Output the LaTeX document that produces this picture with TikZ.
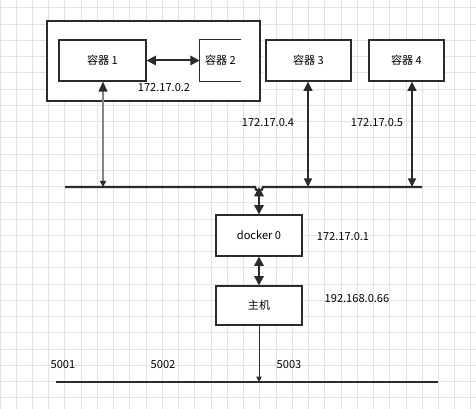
\documentclass[tikz,border=0pt]{standalone}
\usepackage{fontspec}
\setmainfont{Noto Sans CJK SC}
\usetikzlibrary{arrows.meta}
\definecolor{gridc}{HTML}{E2E2E2}
\definecolor{linec}{HTML}{2B2B2B}
\definecolor{grayline}{HTML}{858585}
\begin{document}
\begin{tikzpicture}[x=0.75pt,y=-0.75pt,
  txt/.style={font=\fontsize{8.3}{10}\selectfont, text=black},
  box/.style={draw=linec, line width=0.8pt, fill=white, inner sep=0pt, txt},
  lbl/.style={inner sep=0pt, txt},
  gridline/.style={draw=gridc, line width=0.75pt},
  bus/.style={draw=linec, line width=1.6pt},
  fatarrow/.style={draw=linec, line width=1.5pt, {Triangle[length=7pt,width=7pt]}-{Triangle[length=7pt,width=7pt]}},
  midarrow/.style={draw=linec, line width=1.3pt, {Triangle[length=7pt,width=6.5pt]}-{Triangle[length=6.5pt,width=6pt]}},
  grayarrow/.style={draw=grayline, line width=1.3pt, {Triangle[length=7.5pt,width=6.5pt,color=linec]}-{Triangle[length=4.5pt,width=4.5pt,color=linec]}},
  thinarrow/.style={draw=linec, line width=0.75pt, -{Triangle[length=4pt,width=4pt]}}]
\fill[white] (0,0) rectangle (476,409);
\useasboundingbox (0,0) rectangle (476,409);
\foreach \i in {0,...,29} \draw[gridline] ({\i*16.24},0) -- ({\i*16.24},409);
\foreach \j in {0,...,24} \draw[gridline] (0,{8+\j*16.24}) -- (476,{8+\j*16.24});

% outer frame
\node[box, minimum width=159.75pt, minimum height=60pt] (outer) at (153.5,61) {};
% containers
\node[box, minimum width=65.25pt, minimum height=30.75pt] (c1) at (102.5,60.5) {容器 1};
\node[lbl, minimum width=30.75pt, minimum height=30.75pt] (c2) at (220.5,60.5) {容器 2};
\draw[linec, line width=0.8pt] (c2.north east) -- (c2.north west) -- (c2.south west) -- (c2.south east);
\node[box, minimum width=63.75pt, minimum height=30.75pt] (c3) at (308.5,60.5) {容器 3};
\node[box, minimum width=56.25pt, minimum height=30.75pt] (c4) at (406.5,60.5) {容器 4};
% docker0 and host
\node[box, minimum width=64.5pt, minimum height=30.75pt] (docker) at (259,235.5) {docker 0};
\node[box, minimum width=64.5pt, minimum height=29.25pt] (host) at (259,305.5) {主机};

% bus coordinates
\coordinate (busL) at (65,187);
\coordinate (busR) at (422,187);
\coordinate (hopL) at (255,187);
\coordinate (b1) at (103,187);
\coordinate (b3) at (308,187);
\coordinate (b4) at (412,187);
\coordinate (bd) at (259,187);
\coordinate (lowL) at (56,382);
\coordinate (lowR) at (438,382);
\coordinate (lowH) at (259,382);

\draw[bus] (busL) -- (hopL) arc[start angle=180, end angle=0, radius=4] -- (busR);
\draw[bus] (lowL) -- (lowR);

% arrows
\draw[fatarrow] (c1.east) -- (c2.west);
\draw[grayarrow] (c1.south -| b1) -- (b1);
\draw[midarrow] (c3.south -| b3) -- (b3);
\draw[midarrow] (c4.south -| b4) -- (b4);
\draw[fatarrow] (bd) -- (docker.north);
\draw[fatarrow] (docker.south) -- (host.north);
\draw[thinarrow] (host.south) -- (lowH);

% labels
\node[lbl] (ip2) at (164,88) {172.17.0.2};
\node[lbl] (ip4) at (268,123) {172.17.0.4};
\node[lbl] (ip5) at (377,123) {172.17.0.5};
\node[lbl] (ip1) at (343,237) {172.17.0.1};
\node[lbl] (iph) at (357,299) {192.168.0.66};
\node[lbl] (p1) at (63,365) {5001};
\node[lbl] (p2) at (163,365) {5002};
\node[lbl] (p3) at (289,365) {5003};
\end{tikzpicture}
\end{document}
